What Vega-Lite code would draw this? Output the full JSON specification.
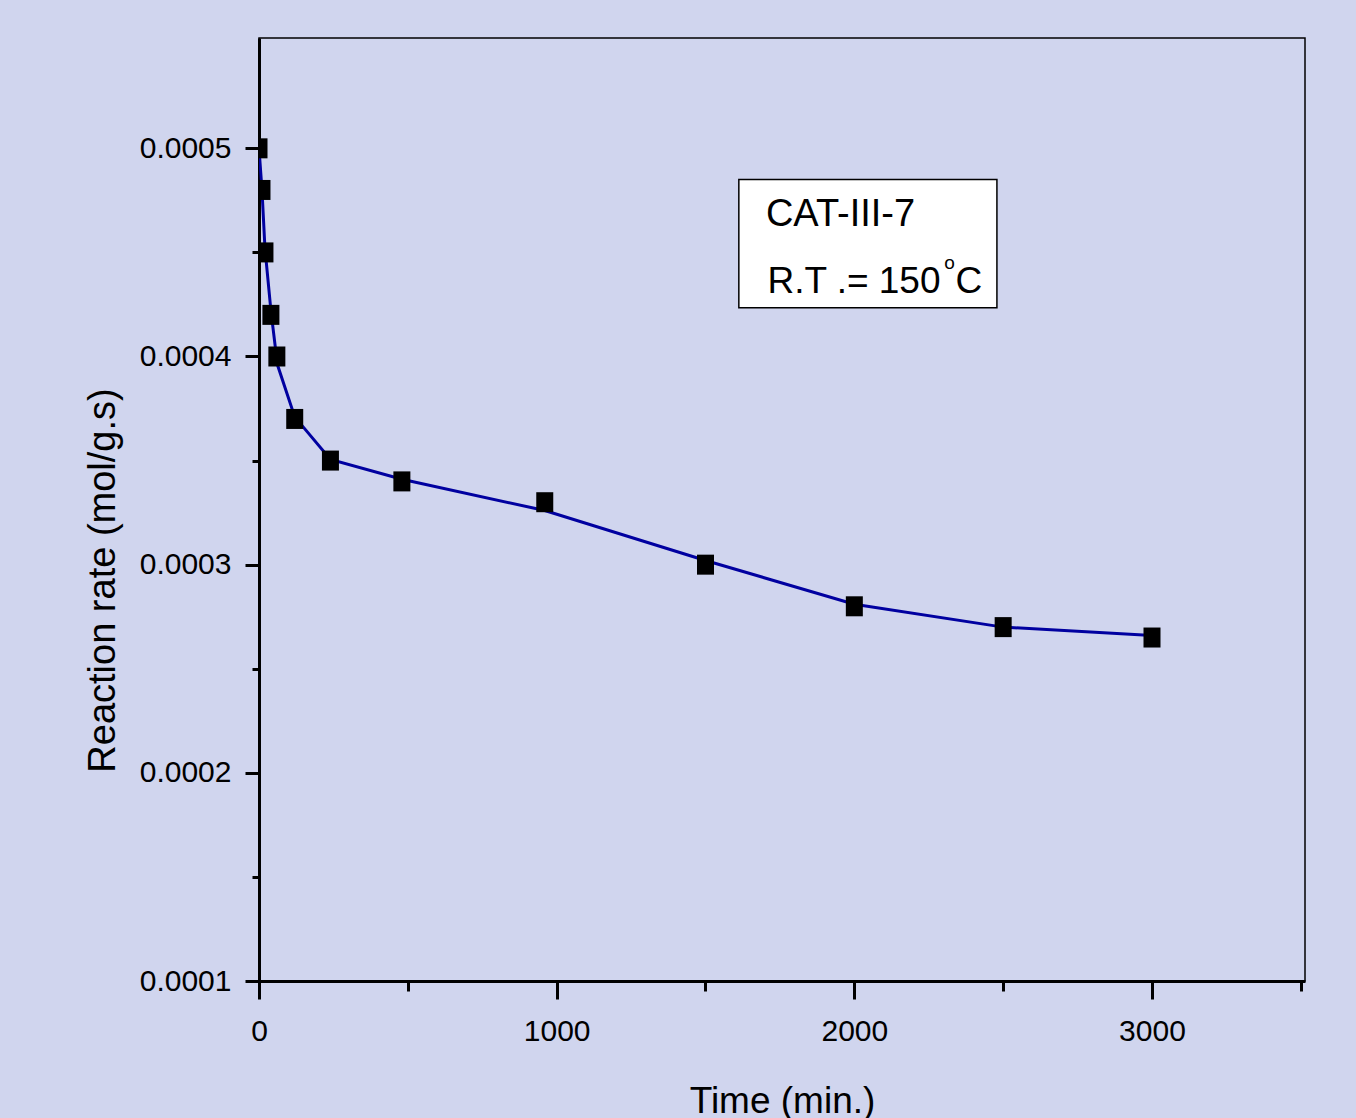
{
  "$schema": "https://vega.github.io/schema/vega-lite/v6.json",
  "width": 1046,
  "height": 943,
  "autosize": {"type": "none"},
  "padding": {"left": 259, "top": 38, "right": 51, "bottom": 137},
  "background": "#D0D5EE",
  "config": {
    "view": {"stroke": "black", "strokeWidth": 1.5},
    "font": "Liberation Sans"
  },
  "datasets": {
    "measured": [
      {"time": 0, "rate": 0.0005},
      {"time": 10, "rate": 0.00048},
      {"time": 20, "rate": 0.00045},
      {"time": 40, "rate": 0.00042},
      {"time": 60, "rate": 0.0004},
      {"time": 120, "rate": 0.00037},
      {"time": 240, "rate": 0.00035},
      {"time": 480, "rate": 0.00034},
      {"time": 960, "rate": 0.00033},
      {"time": 1500, "rate": 0.0003},
      {"time": 2000, "rate": 0.00028},
      {"time": 2500, "rate": 0.00027},
      {"time": 3000, "rate": 0.000265}
    ],
    "fit": [
      {"time": 0, "rate": 0.0005},
      {"time": 10, "rate": 0.00048},
      {"time": 20, "rate": 0.000452},
      {"time": 40, "rate": 0.000422},
      {"time": 62, "rate": 0.000396},
      {"time": 120, "rate": 0.000371},
      {"time": 240, "rate": 0.0003505},
      {"time": 480, "rate": 0.000341},
      {"time": 960, "rate": 0.000326},
      {"time": 1500, "rate": 0.000302},
      {"time": 2000, "rate": 0.000281},
      {"time": 2500, "rate": 0.00027},
      {"time": 3000, "rate": 0.000266}
    ]
  },
  "layer": [
    {
      "data": {"name": "fit"},
      "mark": {"type": "line", "color": "#0000A0", "strokeWidth": 3, "clip": true},
      "encoding": {
        "x": {
          "field": "time", "type": "quantitative",
          "scale": {"domain": [0, 3514], "nice": false, "zero": false},
          "axis": {
            "values": [0, 500, 1000, 1500, 2000, 2500, 3000, 3500],
            "format": "d",
            "labelExpr": "datum.value % 1000 === 0 ? datum.label : ''",
            "tickSize": {"condition": {"test": "datum.value % 1000 === 0", "value": 18}, "value": 10},
            "tickWidth": 3, "tickColor": "black",
            "domainWidth": 3, "domainColor": "black",
            "labelFontSize": 30, "labelColor": "black", "labelPadding": 17,
            "labelFlush": false, "labelOverlap": false,
            "grid": false,
            "title": "Time (min.)",
            "titleFontSize": 37, "titleFontWeight": "normal", "titleColor": "black",
            "titleBaseline": "alphabetic", "titleY": 131
          }
        },
        "y": {
          "field": "rate", "type": "quantitative",
          "scale": {"domain": [0.0001, 0.000553], "nice": false, "zero": false},
          "axis": {
            "values": [0.0001, 0.00015, 0.0002, 0.00025, 0.0003, 0.00035, 0.0004, 0.00045, 0.0005],
            "format": ".4f",
            "labelExpr": "round(datum.value * 100000) % 10 === 0 ? datum.label : ''",
            "tickSize": {"condition": {"test": "round(datum.value * 100000) % 10 === 0", "value": 14}, "value": 7},
            "tickWidth": 3, "tickColor": "black",
            "domainWidth": 3, "domainColor": "black",
            "labelFontSize": 30, "labelColor": "black", "labelPadding": 14,
            "labelFlush": false, "labelOverlap": false,
            "grid": false,
            "title": "Reaction rate (mol/g.s)",
            "titleFontSize": 38, "titleFontWeight": "normal", "titleColor": "black",
            "titleAngle": -90, "titleBaseline": "middle", "titleAlign": "center",
            "titleX": -156, "titleY": 542
          }
        }
      }
    },
    {
      "data": {"name": "measured"},
      "mark": {"type": "point", "shape": "M-0.85,-1H0.85V1H-0.85Z", "filled": true, "color": "black", "opacity": 1, "size": 400, "clip": true},
      "encoding": {
        "x": {"field": "time", "type": "quantitative"},
        "y": {"field": "rate", "type": "quantitative"}
      }
    },
    {
      "data": {"values": [{}]},
      "mark": {"type": "rect", "fill": "white", "stroke": "black", "strokeWidth": 1.5},
      "encoding": {
        "x": {"datum": 1612}, "x2": {"datum": 2479},
        "y": {"datum": 0.000485}, "y2": {"datum": 0.0004234}
      }
    },
    {
      "data": {"values": [{}]},
      "mark": {"type": "text", "text": "CAT-III-7", "align": "left", "baseline": "alphabetic", "fontSize": 38, "color": "black"},
      "encoding": {"x": {"datum": 1703}, "y": {"datum": 0.0004626}}
    },
    {
      "data": {"values": [{}]},
      "mark": {"type": "text", "text": "R.T .= 150", "align": "left", "baseline": "alphabetic", "fontSize": 37, "color": "black"},
      "encoding": {"x": {"datum": 1708}, "y": {"datum": 0.0004305}}
    },
    {
      "data": {"values": [{}]},
      "mark": {"type": "text", "text": "o", "align": "left", "baseline": "alphabetic", "fontSize": 19, "color": "black"},
      "encoding": {"x": {"datum": 2302}, "y": {"datum": 0.000442}}
    },
    {
      "data": {"values": [{}]},
      "mark": {"type": "text", "text": "C", "align": "left", "baseline": "alphabetic", "fontSize": 37, "color": "black"},
      "encoding": {"x": {"datum": 2340}, "y": {"datum": 0.0004305}}
    }
  ]
}
